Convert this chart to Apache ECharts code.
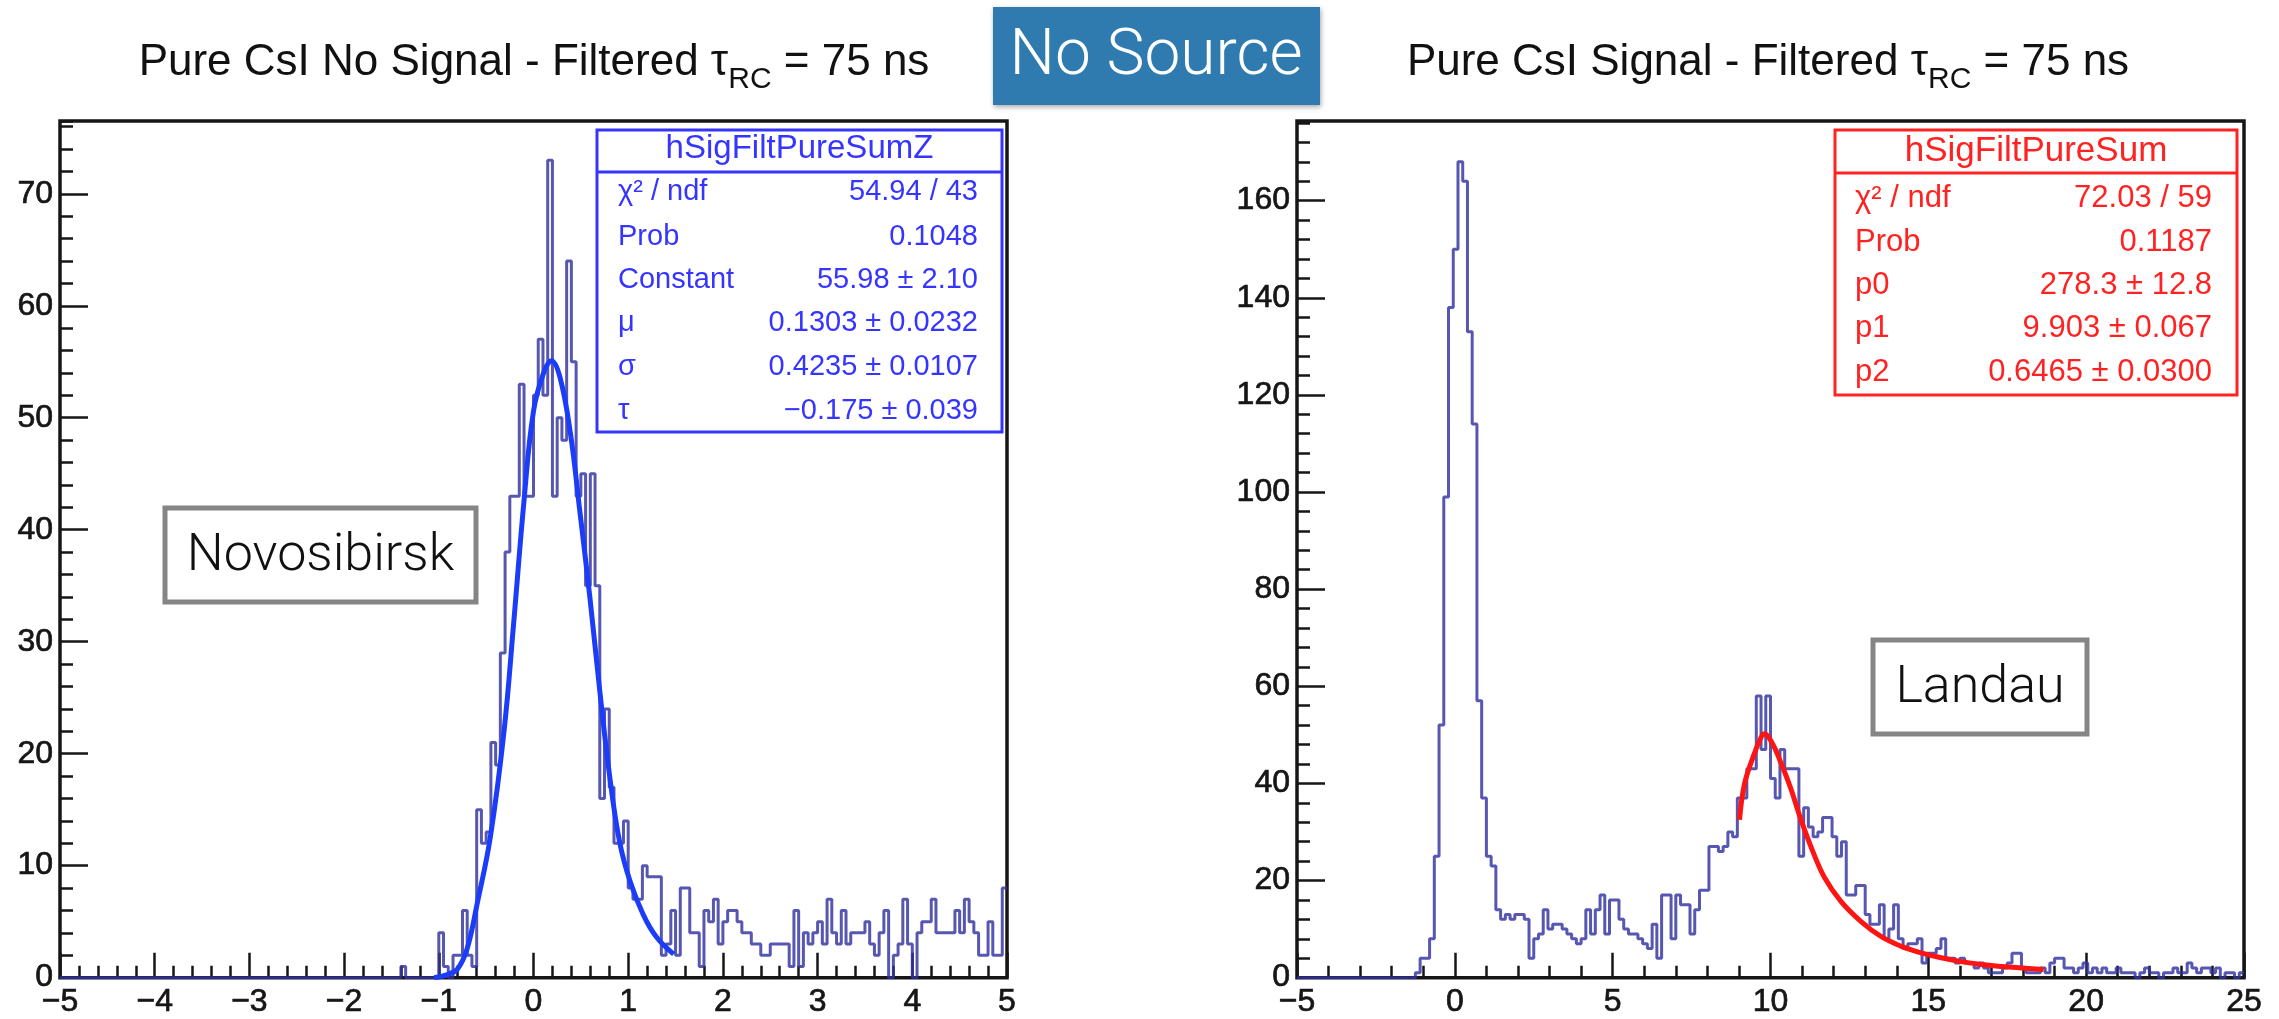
<!DOCTYPE html>
<html><head><meta charset="utf-8">
<script src="https://cdn.jsdelivr.net/npm/echarts@6/dist/echarts.min.js"></script>
<style>html,body{margin:0;padding:0;background:#fff}#c{width:2279px;height:1019px}</style>
</head><body><div id="c"></div><script>
// ---------- DATA ----------
// Left histogram: 200 bins of width 0.05 starting at -5
const leftBinStart = -5;
const leftBinWidth = 0.05;
const leftCounts = [
  0,0,0,0,0,0,0,0,0,0,
  0,0,0,0,0,0,0,0,0,0,
  0,0,0,0,0,0,0,0,0,0,
  0,0,0,0,0,0,0,0,0,0,
  0,0,0,0,0,0,0,0,0,0,
  0,0,0,0,0,0,0,0,0,0,
  0,0,0,0,0,0,0,0,0,0,
  0,0,1,0,0,0,0,0,0,0,
  4,1,0,2,2,6,2,1,15,12,
  13,21,19,29,38,43,43,53,43,43,
  52,57,52,73,43,50,48,64,55,43,
  45,35,45,35,16,24,17,12,12,14,
  8,7,7,10,9,9,9,2,3,6,
  2,8,8,4,4,1,6,5,7,3,
  5,6,6,5,4,4,3,3,2,2,
  3,3,3,3,1,6,1,4,3,4,
  5,3,7,4,3,6,3,4,4,4,
  5,3,2,4,6,0,2,3,7,3,
  0,4,5,5,7,4,4,4,4,6,
  4,7,5,4,2,2,5,2,2,8
];
// Right histogram: 200 bins of width 0.15 starting at -5
const rightBinStart = -5;
const rightBinWidth = 0.15;
const rightCounts = [
  0,0,0,0,0,0,0,0,0,0,
  0,0,0,0,0,0,0,0,0,0,
  0,0,0,0,0,1,4,4,8,25,
  52,99,138,150,168,164,133,114,57,37,
  25,23,14,12,13,12,13,13,12,4,
  8,9,14,10,11,11,10,9,8,7,
  8,14,9,14,17,9,16,16,12,10,
  9,9,8,7,6,11,4,17,17,8,
  17,15,15,9,14,18,18,27,27,26,
  27,30,29,37,37,43,43,58,47,58,
  41,37,47,43,43,43,25,35,31,29,
  30,33,33,29,25,28,17,17,19,19,
  13,11,11,15,8,10,15,8,6,7,
  7,8,3,5,5,6,8,4,4,3,
  4,3,3,2,3,2,1,1,1,2,
  3,5,5,2,1,1,1,2,1,3,
  4,4,2,2,1,2,3,1,2,1,
  2,1,1,2,1,1,1,0,1,2,
  1,1,0,1,1,2,1,1,3,2,
  1,2,2,1,2,0,1,1,0,1
];
// Fit curves
const leftFitX = [-1.05,-0.90,-0.80,-0.70,-0.595,-0.455,-0.31,-0.21,-0.10,0.0,0.11,0.19,0.28,0.39,0.49,0.60,0.70,0.81,0.91,1.02,1.16,1.30,1.48];
const leftFitY = [0,0.3,0.8,2.6,6.6,12.6,22.1,31.6,42.6,50.6,54.1,55.1,53.6,48.6,41.6,33.6,25.6,17.6,12.1,8.6,5.6,3.6,2.1];
const rightFitX = [9.02,9.17,9.43,9.68,9.80,10.06,10.32,10.64,10.95,11.34,11.72,12.23,12.86,13.50,14.13,14.77,15.41,16.04,16.68,17.32,17.95,18.65];
const rightFitY = [32.5,39.7,45.1,49.2,50.2,48.2,44.4,39.0,32.8,26.0,20.5,15.7,11.6,8.5,6.5,5.1,4.1,3.3,2.7,2.3,2.0,1.7];
// Axis ranges
const leftXRange = [-5, 5];
const leftYMax = 76.5;
const rightXRange = [-5, 25];
const rightYMax = 176.4;
// Texts
const leftTitle = ['Pure CsI No Signal - Filtered τ', 'RC', ' = 75 ns'];
const rightTitle = ['Pure CsI Signal - Filtered τ', 'RC', ' = 75 ns'];
const bannerText = 'No Source';
const leftNote = 'Novosibirsk';
const rightNote = 'Landau';
const leftStatName = 'hSigFiltPureSumZ';
const leftStatLabels = ['χ² / ndf', 'Prob', 'Constant', 'μ', 'σ', 'τ'];
const leftStatValues = ['54.94 / 43', '0.1048', '55.98 ± 2.10', '0.1303 ± 0.0232', '0.4235 ± 0.0107', '−0.175 ± 0.039'];
const rightStatName = 'hSigFiltPureSum';
const rightStatLabels = ['χ² / ndf', 'Prob', 'p0', 'p1', 'p2'];
const rightStatValues = ['72.03 / 59', '0.1187', '278.3 ± 12.8', '9.903 ± 0.067', '0.6465 ± 0.0300'];

// ---------- BUILD ----------
function stepData(counts, start, width) {
  const pts = counts.map((c, i) => [start + i * width, c]);
  pts.push([start + counts.length * width, counts[counts.length - 1]]);
  return pts;
}
function zip(xs, ys) { return xs.map((x, i) => [x, ys[i]]); }

const FONT = 'Liberation Sans, Arial, Helvetica, sans-serif';
const LIGHT = 'Roboto, "Open Sans", Lato, sans-serif';
const INK = '#161616';
const minus = v => String(v).replace('-', '\u2212');
const labelStyle = { fontFamily: FONT, fontSize: 32, color: INK, textBorderColor: INK, textBorderWidth: 0.7 };

function xAxes(grid, range, major, minor) {
  return [
    { gridIndex: grid, type: 'value', min: range[0], max: range[1], interval: major, position: 'bottom',
      axisLine: { show: false, onZero: false },
      axisTick: { inside: true, length: 25, lineStyle: { color: INK, width: 2.5 } },
      axisLabel: Object.assign({ margin: 9, formatter: minus }, labelStyle),
      splitLine: { show: false } },
    { gridIndex: grid, type: 'value', min: range[0], max: range[1], interval: minor, position: 'bottom',
      axisLine: { show: false, onZero: false },
      axisTick: { inside: true, length: 12, lineStyle: { color: INK, width: 2.5 } },
      axisLabel: { show: false }, splitLine: { show: false } }
  ];
}
function yAxes(grid, max, major, minor) {
  return [
    { gridIndex: grid, type: 'value', min: 0, max: max, interval: major, position: 'left',
      axisLine: { show: false, onZero: false },
      axisTick: { inside: true, length: 28, lineStyle: { color: INK, width: 2.5 } },
      axisLabel: Object.assign({ margin: 7, showMaxLabel: false }, labelStyle),
      splitLine: { show: false } },
    { gridIndex: grid, type: 'value', min: 0, max: max, interval: minor, position: 'left',
      axisLine: { show: false, onZero: false },
      axisTick: { inside: true, length: 13, lineStyle: { color: INK, width: 2.5 } },
      axisLabel: { show: false }, splitLine: { show: false } }
  ];
}

function titleText(parts, x) {
  return { type: 'text', x: x, y: 41, z: 50, style: {
    text: '{a|' + parts[0] + '}{s|' + parts[1] + '}{a|' + parts[2] + '}',
    align: 'center', verticalAlign: 'top',
    rich: {
      a: { fontSize: 44, fontFamily: FONT, fill: '#111', lineHeight: 54, verticalAlign: 'top' },
      s: { fontSize: 30, fontFamily: FONT, fill: '#111', lineHeight: 54, verticalAlign: 'bottom' }
    } } };
}
function statBox(b, color, name, labels, values) {
  const els = [];
  els.push({ type: 'rect', z: 60, shape: { x: b.x, y: b.y, width: b.w, height: b.h },
    style: { fill: '#fff', stroke: color, lineWidth: 3 } });
  els.push({ type: 'line', z: 61, shape: { x1: b.x, y1: b.sep, x2: b.x + b.w, y2: b.sep },
    style: { stroke: color, lineWidth: 3 } });
  els.push({ type: 'text', z: 62, x: b.x + b.w / 2, y: b.headY, style: { text: name, align: 'center',
    verticalAlign: 'middle', font: b.headSize + 'px ' + FONT, fill: color } });
  labels.forEach((l, i) => {
    els.push({ type: 'text', z: 62, x: b.labX, y: b.rowY[i], style: { text: l, align: 'left',
      verticalAlign: 'middle', font: b.rowSize + 'px ' + FONT, fill: color } });
    els.push({ type: 'text', z: 62, x: b.valX, y: b.rowY[i], style: { text: values[i], align: 'right',
      verticalAlign: 'middle', font: b.rowSize + 'px ' + FONT, fill: color } });
  });
  return els;
}
function noteBox(x, y, w, h, text) {
  return [
    { type: 'rect', z: 55, shape: { x: x, y: y, width: w, height: h },
      style: { fill: '#fff', stroke: '#858585', lineWidth: 5 } },
    { type: 'text', z: 56, x: x + w / 2, y: y + h / 2 + 2, style: { text: text, align: 'center',
      verticalAlign: 'middle', font: '300 52px ' + LIGHT, fill: '#111' } }
  ];
}

const graphics = [].concat(
  [titleText(leftTitle, 534), titleText(rightTitle, 1768)],
  [{ type: 'rect', z: 70, shape: { x: 993, y: 7, width: 327, height: 98 },
     style: { fill: '#2f7bb0', shadowBlur: 5, shadowColor: 'rgba(0,0,0,0.35)', shadowOffsetX: 1, shadowOffsetY: 2 } },
   { type: 'text', z: 71, x: 1156, y: 58, style: { text: bannerText, align: 'center', verticalAlign: 'middle',
     font: '300 64px ' + LIGHT, fill: '#fff' } }],
  statBox({ x: 597, y: 130, w: 405, h: 302, sep: 172, headY: 149, headSize: 33, rowSize: 29,
            labX: 618, valX: 978, rowY: [192, 237, 280, 323, 367, 411] },
          '#3535ff', leftStatName, leftStatLabels, leftStatValues),
  statBox({ x: 1835, y: 130, w: 402, h: 265, sep: 173, headY: 151, headSize: 35, rowSize: 31,
            labX: 1855, valX: 2212, rowY: [198, 242, 285, 328, 372] },
          '#ff2222', rightStatName, rightStatLabels, rightStatValues),
  noteBox(165, 508, 311, 94, leftNote),
  noteBox(1873, 640, 214, 94, rightNote)
);

const HIST = 'rgba(50,50,160,0.82)';
const option = {
  animation: false,
  backgroundColor: '#fff',
  grid: [
    { left: 60, top: 121, width: 947, height: 859, show: true, borderColor: INK, borderWidth: 3.5, backgroundColor: 'transparent' },
    { left: 1297, top: 121, width: 947, height: 859, show: true, borderColor: INK, borderWidth: 3.5, backgroundColor: 'transparent' }
  ],
  xAxis: [].concat(xAxes(0, leftXRange, 1, 0.2), xAxes(1, rightXRange, 5, 1)),
  yAxis: [].concat(yAxes(0, leftYMax, 10, 2), yAxes(1, rightYMax, 20, 4)),
  series: [
    { type: 'line', xAxisIndex: 0, yAxisIndex: 0, step: 'end', symbol: 'none', z: 2,
      data: stepData(leftCounts, leftBinStart, leftBinWidth), lineStyle: { color: HIST, width: 3 } },
    { type: 'line', xAxisIndex: 0, yAxisIndex: 0, smooth: 0.4, symbol: 'none', z: 3,
      data: zip(leftFitX, leftFitY), lineStyle: { color: '#1b3dfa', width: 5 } },
    { type: 'line', xAxisIndex: 2, yAxisIndex: 2, step: 'end', symbol: 'none', z: 2,
      data: stepData(rightCounts, rightBinStart, rightBinWidth), lineStyle: { color: HIST, width: 3 } },
    { type: 'line', xAxisIndex: 2, yAxisIndex: 2, smooth: 0.4, symbol: 'none', z: 3,
      data: zip(rightFitX, rightFitY), lineStyle: { color: '#ff1414', width: 5 } }
  ],
  graphic: { elements: graphics }
};
const chart = echarts.init(document.getElementById('c'), null, { renderer: 'canvas' });
chart.setOption(option);
</script></body></html>
